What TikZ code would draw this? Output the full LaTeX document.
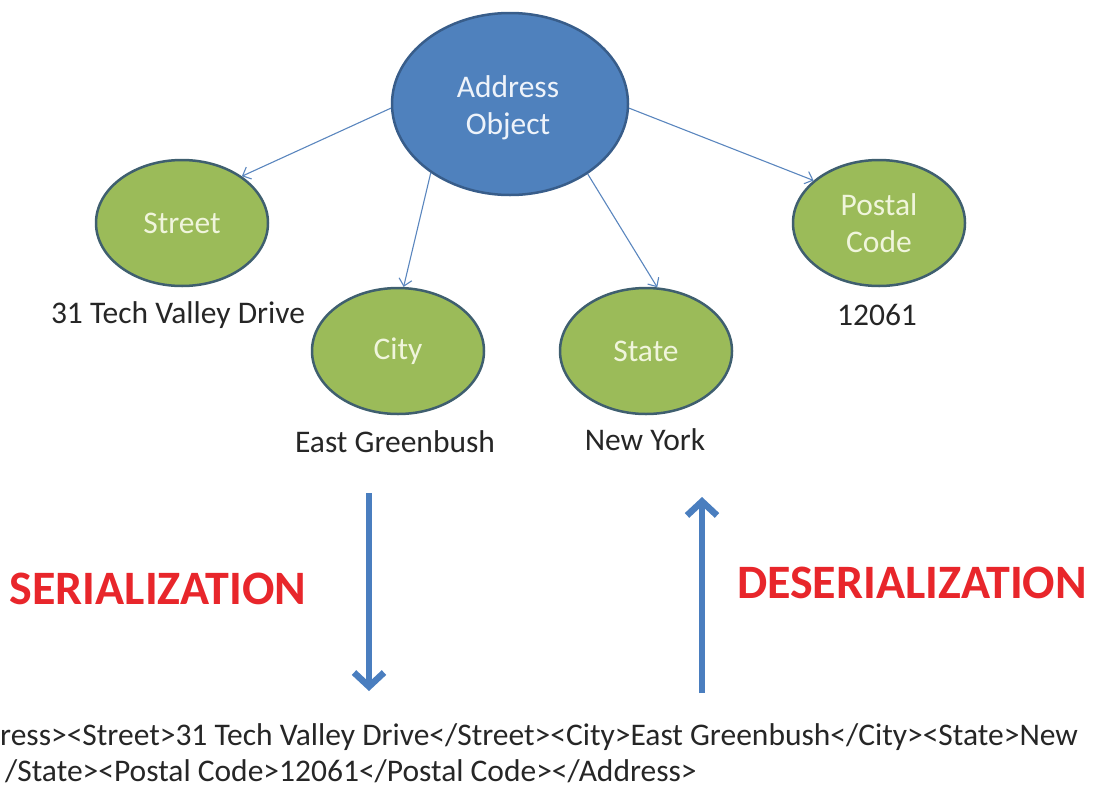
\documentclass[tikz,border=0pt]{standalone}
\usepackage{fontspec}
\setmainfont{Carlito}
\usetikzlibrary{shapes.geometric,arrows.meta}
\definecolor{objblue}{HTML}{4F81BD}
\definecolor{objedge}{HTML}{385D8A}
\definecolor{fieldgreen}{HTML}{9BBB59}
\definecolor{fieldedge}{HTML}{3F5F6F}
\definecolor{linkblue}{HTML}{5A86BE}
\definecolor{flowblue}{HTML}{4A7EBF}
\definecolor{flowred}{HTML}{E8262B}
\definecolor{greentext}{HTML}{F0F5DC}
\definecolor{bluetext}{HTML}{EEF3FA}
\tikzset{
  objnode/.style={ellipse, fill=objblue, draw=objedge, line width=2.5pt,
    inner sep=0pt, minimum width=236pt, minimum height=182pt},
  objtext/.style={text=bluetext, font=\fontsize{31.5}{37}\selectfont, align=center, inner sep=0pt},
  fieldnode/.style={ellipse, fill=fieldgreen, draw=fieldedge, line width=2.5pt,
    inner sep=0pt, minimum width=172pt, minimum height=126pt,
    text=greentext, font=\fontsize{31.5}{37}\selectfont, align=center},
  valuetext/.style={font=\fontsize{31.5}{37}\selectfont, text=black!85, inner sep=0pt},
  link/.style={draw=linkblue, line width=1.1pt,
    -{Straight Barb[length=7pt,width=13pt,line width=1.1pt]}},
  flow/.style={draw=flowblue, line width=6.5pt,
    -{Straight Barb[length=14pt,width=30pt,line width=6.5pt]}},
  flowlabel/.style={font=\fontsize{48}{56}\bfseries\selectfont, text=flowred, inner sep=0pt},
  xmltext/.style={font=\fontsize{31.5}{37}\selectfont, text=black!85, inner sep=0pt, anchor=west}
}
\begin{document}
\begin{tikzpicture}[x=1pt,y=-1pt]
  \useasboundingbox (0,0) rectangle (1094,787);

  % object and its fields
  \node[objnode] (addr) at (510,104) {};
  \node[objtext] (addrtext) at (508,108) {Address\\Object};
  \node[fieldnode] (street) at (182,223) {Street};
  \node[fieldnode] (city) at (398,351) {City};
  \node[fieldnode] (state) at (646,351) {State};
  \node[fieldnode] (postal) at (879,223) {Postal\\Code};

  % field values
  \node[valuetext] (vstreet) at (178,315) {31 Tech Valley Drive};
  \node[valuetext] (vcity) at (395,442) {East Greenbush};
  \node[valuetext] (vstate) at (645,440) {New York};
  \node[valuetext] (vpostal) at (877,315) {12061};

  % object-to-field links
  \draw[link] (addr.182) -- (street.38);
  \draw[link] (addr.221) -- (city.85);
  \draw[link] (addr.318) -- (state.80);
  \draw[link] (addr.-2) -- (postal.147);

  % conversion arrows
  \coordinate (sertop) at (369,493);
  \coordinate (serbot) at (369,691);
  \coordinate (desbot) at (702,693);
  \coordinate (destop) at (702,497);
  \draw[flow] (sertop) -- (serbot);
  \draw[flow] (desbot) -- (destop);

  \node[flowlabel] (serlabel) at (158,589) {SERIALIZATION};
  \node[flowlabel] (deslabel) at (912,583) {DESERIALIZATION};

  % serialized form
  \node[xmltext] (xml1) at (0,737) {ress><Street>31 Tech Valley Drive</Street><City>East Greenbush</City><State>New};
  \node[xmltext] (xml2) at (5,771) {/State><Postal Code>12061</Postal Code></Address>};
\end{tikzpicture}
\end{document}
